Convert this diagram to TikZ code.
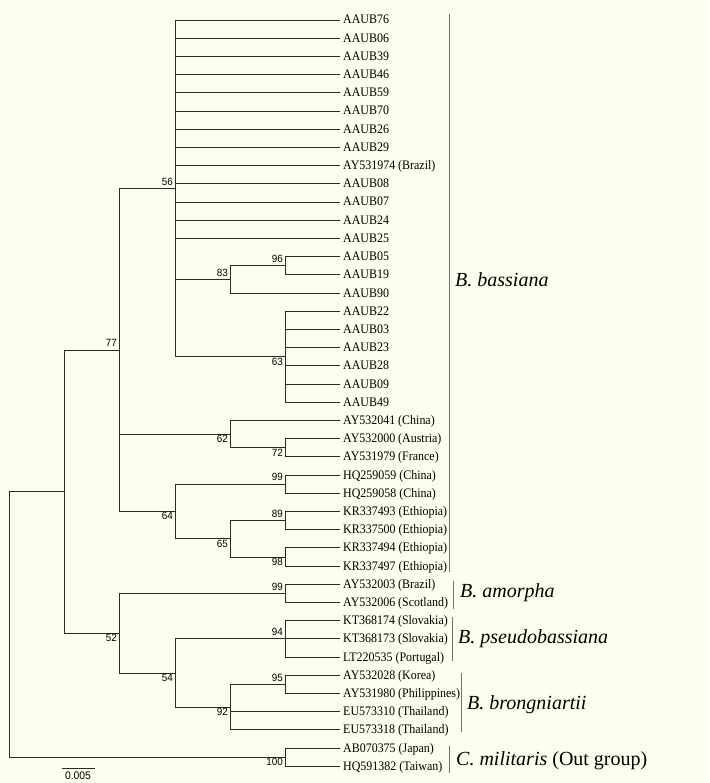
\documentclass[tikz,border=0pt]{standalone}
\usepackage{fontspec}
\setmainfont{Liberation Serif}
\newfontfamily\leaffont[FakeStretch=0.92]{Liberation Serif}
\newfontfamily\supfont[FakeStretch=0.94]{Liberation Sans}
\usetikzlibrary{positioning,calc}
\definecolor{paper}{HTML}{FEFEEF}
\definecolor{branch}{HTML}{2A2A2A}
\definecolor{bar}{HTML}{707070}

\begin{document}
\begin{tikzpicture}[
  x=1pt, y=-1pt,
  br/.style={draw=branch, line width=0.8pt},
  clade/.style={draw=bar, line width=0.7pt},
  leaf/.style={anchor=west, inner sep=3pt, text height=8pt, text depth=0pt,
               font=\leaffont\fontsize{13}{15}\selectfont},
  supa/.style={anchor=south east, inner sep=0pt, xshift=-2pt, yshift=3pt,
               font=\supfont\fontsize{10.5}{12}\selectfont},
  supb/.style={supa, anchor=north east, yshift=-4pt},
  sp/.style={anchor=west, inner sep=0pt, font=\fontsize{20}{24}\selectfont\itshape},
]
\fill[paper] (0,0) rectangle (709,783);
\useasboundingbox (0,0) rectangle (709,783);

% leaves, top to bottom
\foreach \t [count=\i from 0] in {AAUB76,AAUB06,AAUB39,AAUB46,AAUB59,AAUB70,AAUB26,AAUB29,
  AY531974 (Brazil),AAUB08,AAUB07,AAUB24,AAUB25,AAUB05,AAUB19,AAUB90,AAUB22,AAUB03,AAUB23,
  AAUB28,AAUB09,AAUB49,AY532041 (China),AY532000 (Austria),AY531979 (France),HQ259059 (China),
  HQ259058 (China),KR337493 (Ethiopia),KR337500 (Ethiopia),KR337494 (Ethiopia),
  KR337497 (Ethiopia),AY532003 (Brazil),AY532006 (Scotland),KT368174 (Slovakia),
  KT368173 (Slovakia),LT220535 (Portugal),AY532028 (Korea),AY531980 (Philippines),
  EU573310 (Thailand),EU573318 (Thailand),AB070375 (Japan),HQ591382 (Taiwan)}
  \node[leaf] (l\i) at (340,{20+18.2*\i}) {\t};

% internal nodes
\coordinate (n56) at (175,188.35);
\coordinate (n83) at (230,279.35);
\coordinate (n96) at (285,265.7);
\coordinate (n63) at (285,356.7);
\coordinate (n77) at (119,349.9);
\coordinate (n62) at (230,434.05);
\coordinate (n72) at (285,447.7);
\coordinate (n64) at (175,511.4);
\coordinate (n99a) at (285,484.1);
\coordinate (n65) at (230,538.7);
\coordinate (n89) at (285,520.5);
\coordinate (n98) at (285,556.9);
\coordinate (na) at (64,491.5);
\coordinate (n52) at (119,633.1);
\coordinate (n99b) at (285,593.3);
\coordinate (n54) at (175,672.9);
\coordinate (n94) at (285,638.8);
\coordinate (n92) at (230,707.05);
\coordinate (n95) at (285,684.3);
\coordinate (n100) at (285,757.1);
\coordinate (root) at (9,624.3);

% branches
\foreach \i in {0,...,12} \draw[br] (n56) |- (l\i.west);
\draw[br] (n56) |- (n83);
\draw[br] (n83) |- (n96);
\draw[br] (n96) |- (l13.west);
\draw[br] (n96) |- (l14.west);
\draw[br] (n83) |- (l15.west);
\draw[br] (n56) |- (n63);
\foreach \i in {16,...,21} \draw[br] (n63) |- (l\i.west);
\foreach \c in {n56,n62,n64} \draw[br] (n77) |- (\c);
\draw[br] (n62) |- (l22.west);
\draw[br] (n62) |- (n72);
\draw[br] (n72) |- (l23.west);
\draw[br] (n72) |- (l24.west);
\draw[br] (n64) |- (n99a);
\draw[br] (n99a) |- (l25.west);
\draw[br] (n99a) |- (l26.west);
\draw[br] (n64) |- (n65);
\draw[br] (n65) |- (n89);
\draw[br] (n89) |- (l27.west);
\draw[br] (n89) |- (l28.west);
\draw[br] (n65) |- (n98);
\draw[br] (n98) |- (l29.west);
\draw[br] (n98) |- (l30.west);
\draw[br] (na) |- (n77);
\draw[br] (na) |- (n52);
\draw[br] (n52) |- (n99b);
\draw[br] (n99b) |- (l31.west);
\draw[br] (n99b) |- (l32.west);
\draw[br] (n52) |- (n54);
\draw[br] (n54) |- (n94);
\foreach \i in {33,34,35} \draw[br] (n94) |- (l\i.west);
\draw[br] (n54) |- (n92);
\draw[br] (n92) |- (n95);
\draw[br] (n95) |- (l36.west);
\draw[br] (n95) |- (l37.west);
\draw[br] (n92) |- (l38.west);
\draw[br] (n92) |- (l39.west);
\draw[br] (root) |- (na);
\draw[br] (root) |- (n100);
\draw[br] (n100) |- (l40.west);
\draw[br] (n100) |- (l41.west);

% bootstrap values
\node[supa] (s56) at (n56) {56};
\node[supa] (s83) at (n83) {83};
\node[supa] (s96) at (n96) {96};
\node[supb] (s63) at (n63) {63};
\node[supa] (s77) at (n77) {77};
\node[supb] (s62) at (n62) {62};
\node[supb] (s72) at (n72) {72};
\node[supa] (s99a) at (n99a) {99};
\node[supb] (s64) at (n64) {64};
\node[supa] (s89) at (n89) {89};
\node[supb] (s65) at (n65) {65};
\node[supb] (s98) at (n98) {98};
\node[supa] (s99b) at (n99b) {99};
\node[supb] (s52) at (n52) {52};
\node[supa] (s94) at (n94) {94};
\node[supb] (s54) at (n54) {54};
\node[supa] (s95) at (n95) {95};
\node[supb] (s92) at (n92) {92};
\node[supb] (s100) at (n100) {100};

% species brackets
\coordinate (bb1) at (449,14); \coordinate (bb2) at (449,572);
\draw[clade] (bb1) -- (bb2);
\node[sp] (bbas) at (455,280) {B. bassiana};
\coordinate (am1) at (453,581); \coordinate (am2) at (453,609);
\draw[clade] (am1) -- (am2);
\node[sp] (bam) at (460,593) {B. amorpha};
\coordinate (ps1) at (452,617); \coordinate (ps2) at (452,661);
\draw[clade] (ps1) -- (ps2);
\node[sp] (bps) at (458,639) {B. pseudobassiana};
\coordinate (bg1) at (461,673); \coordinate (bg2) at (461,732);
\draw[clade] (bg1) -- (bg2);
\node[sp] (bbr) at (467,705) {B. brongniartii};
\coordinate (cm1) at (449,746); \coordinate (cm2) at (449,773);
\draw[clade] (cm1) -- (cm2);
\node[sp] (cmil) at (456,761) {C. militaris \upshape(Out group)};

% scale bar
\coordinate (sb1) at (62,768); \coordinate (sb2) at (95,768);
\draw[br] (sb1) -- (sb2);
\node[anchor=north, inner sep=0pt, font=\supfont\fontsize{11}{13}\selectfont] (sbl)
  at (78,772) {0.005};
\end{tikzpicture}
\end{document}
